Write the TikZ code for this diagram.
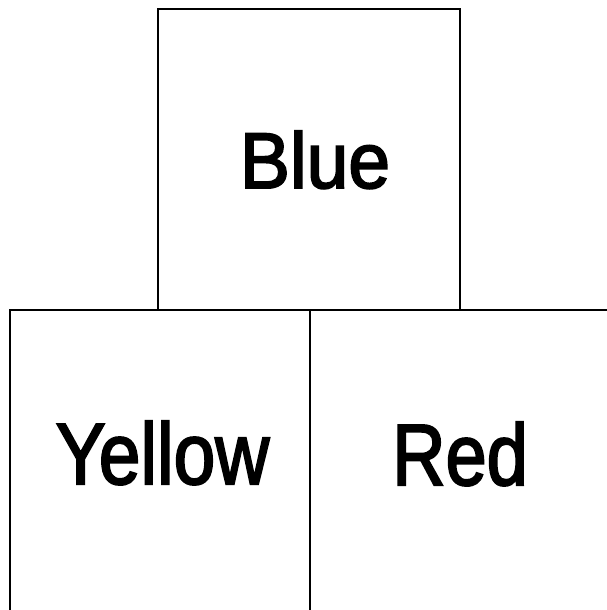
\documentclass[tikz,border=0pt]{standalone}
\usepackage{fontspec}
\setmainfont{Liberation Sans}
\newfontfamily\heavy{Liberation Sans}[FakeBold=2.5]
\begin{document}
\begin{tikzpicture}[x=1pt,y=-1pt,
  edge/.style={line width=2.5pt,black},
  box/.style={draw=none,inner sep=0pt,outer sep=0pt,rectangle},
  word/.style={anchor=base,inner sep=0pt}]
\useasboundingbox (0,0) rectangle (607,610);
% boxes
\node[box,minimum width=302pt,minimum height=301pt] (blue) at (309,159.5) {};
\node[box,minimum width=300pt,minimum height=300pt] (yellow) at (160,460) {};
\node[box,minimum width=297pt,minimum height=300pt] (red) at (458.5,460) {};
\draw[edge] (blue.south west) |- (blue.north east) -- (blue.south east);
\draw[edge] (yellow.south west) -- (yellow.north west) -- (red.north east);
\draw[edge] (yellow.north east) -- (yellow.south east);
% labels
\node[word,xscale=0.95] (tblue) at (315,188) {\heavy\fontsize{79}{79}\selectfont Blue};
\node[word,xscale=0.86] (tyellow) at (162.5,484) {\heavy\fontsize{87}{87}\selectfont Yellow};
\node[word,xscale=0.85] (tred) at (460,485) {\heavy\fontsize{87}{87}\selectfont Red};
\end{tikzpicture}
\end{document}
